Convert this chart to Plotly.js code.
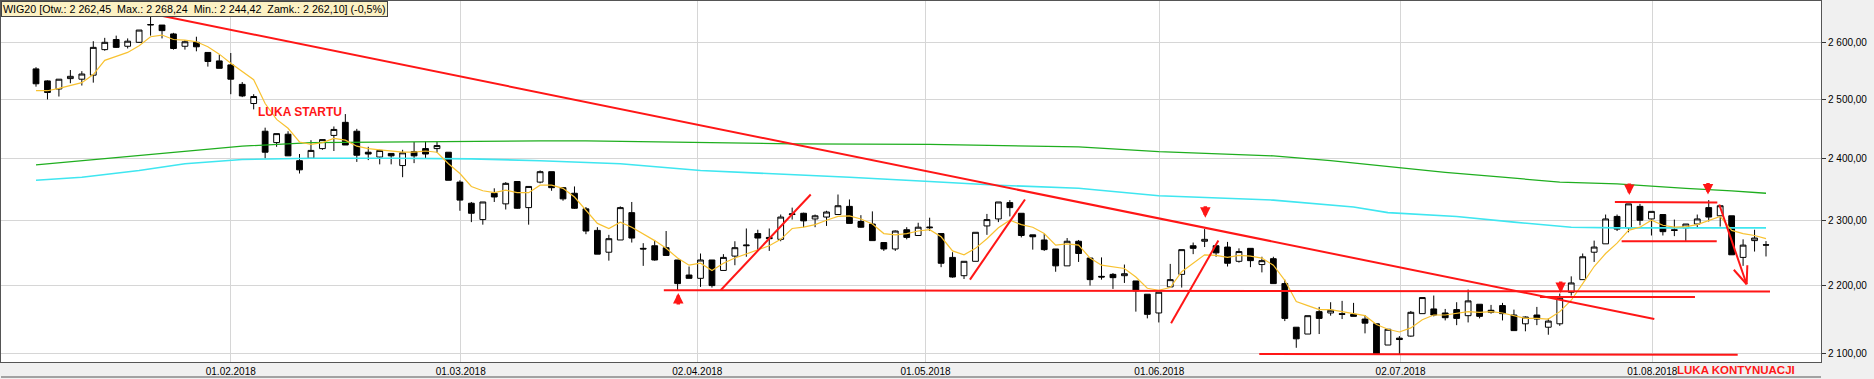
<!DOCTYPE html>
<html><head><meta charset="utf-8">
<script src="https://cdn.plot.ly/plotly-3.0.1.min.js"></script>
<style>html,body{margin:0;padding:0;background:#f0f0f0;}#chart{width:1874px;height:379px;}</style>
</head><body><div id="chart"></div>
<script>
const openP  = [2553,2532,2518,2536,2535,2542,2587,2605,2593,2600,2631,2631,2615,2593,2600,2582,2567,2560,2526,2493,
2446,2427,2441,2397,2401,2417,2439,2461,2446,2411,2403,2409,2389,2412,2417,2417,2411,2362,2328,2302,
2344,2327,2363,2321,2362,2379,2353,2344,2319,2285,2251,2270,2313,2257,2261,2258,2239,2216,2211,2239,
2223,2245,2261,2280,2274,2271,2310,2312,2303,2306,2310,2323,2299,2295,2266,2256,2286,2277,2289,2280,
2243,2215,2237,2292,2303,2329,2312,2278,2270,2256,2230,2268,2242,2214,2217,2215,2207,2187,2159,2198,
2217,2261,2268,2261,2259,2237,2257,2232,2241,2203,2138,2128,2161,2159,2158,2157,2150,2143,2112,2122,
2125,2158,2165,2159,2164,2155,2172,2163,2170,2156,2143,2156,2138,2143,2190,2209,2251,2264,2307,2289,
2323,2303,2310,2286,2289,2295,2321,2308,2308,2243,2269,2262.45];
const highP  = [2556,2533,2535,2551,2549,2602,2608,2612,2607,2622,2652,2631,2617,2604,2610,2582,2578,2581,2530,2509,
2452,2442,2446,2408,2431,2432,2454,2475,2450,2420,2415,2409,2415,2428,2429,2429,2411,2365,2330,2330,
2352,2362,2363,2355,2381,2379,2354,2355,2322,2290,2278,2323,2330,2265,2270,2284,2239,2229,2249,2239,
2248,2268,2288,2286,2288,2310,2321,2313,2310,2316,2342,2334,2309,2315,2266,2285,2290,2297,2305,2280,
2251,2237,2282,2311,2330,2333,2312,2278,2280,2256,2273,2270,2242,2243,2219,2232,2207,2187,2190,2233,
2255,2266,2287,2261,2267,2257,2257,2244,2244,2209,2138,2155,2168,2175,2177,2174,2156,2143,2135,2125,
2162,2182,2185,2165,2175,2194,2172,2171,2174,2164,2154,2168,2151,2188,2214,2249,2269,2310,2310,2327,
2327,2315,2310,2302,2295,2310,2333,2324,2308,2271,2286,2268.24];
const lowP   = [2522,2500,2505,2528,2524,2529,2585,2590,2589,2599,2612,2607,2587,2587,2584,2557,2554,2509,2504,2483,
2401,2420,2405,2376,2401,2415,2413,2423,2395,2398,2391,2391,2370,2393,2401,2410,2365,2316,2298,2294,
2330,2318,2319,2294,2360,2348,2332,2319,2279,2248,2238,2270,2266,2230,2238,2246,2193,2211,2198,2197,
2223,2231,2244,2254,2253,2268,2302,2290,2290,2292,2310,2296,2289,2269,2253,2253,2271,2277,2284,2228,
2212,2210,2237,2278,2298,2307,2274,2255,2253,2221,2230,2236,2200,2209,2195,2204,2161,2151,2145,2198,
2197,2248,2259,2244,2229,2235,2228,2220,2203,2147,2108,2128,2128,2155,2150,2154,2129,2098,2112,2098,
2124,2158,2154,2148,2141,2145,2151,2158,2148,2133,2132,2141,2127,2140,2185,2209,2236,2264,2284,2282,
2293,2277,2277,2276,2268,2290,2299,2291,2247,2230,2252,2244.42];
const closeP = [2527,2512,2535,2540,2544,2591,2600,2591,2602,2622,2632,2621,2589,2601,2592,2566,2554,2535,2506,2505,
2411,2442,2405,2382,2414,2432,2449,2423,2406,2408,2414,2405,2410,2405,2408,2422,2365,2333,2312,2330,
2338,2360,2320,2355,2379,2353,2335,2320,2284,2248,2272,2321,2273,2256,2239,2246,2203,2211,2239,2200,
2243,2258,2262,2273,2272,2306,2311,2300,2308,2314,2324,2296,2290,2269,2256,2284,2274,2290,2290,2234,
2213,2237,2282,2302,2330,2321,2277,2275,2255,2230,2268,2249,2209,2213,2212,2218,2192,2157,2190,2209,
2255,2257,2271,2250,2234,2252,2238,2238,2203,2151,2121,2155,2151,2163,2157,2154,2144,2099,2135,2120,
2160,2182,2156,2152,2151,2177,2154,2160,2158,2133,2153,2150,2147,2181,2204,2244,2259,2303,2287,2327,
2301,2315,2283,2285,2295,2303,2306,2324,2247,2262,2273,2262.10];

const maShort = [2515,2515,2519,2524,2529,2543,2568,2575,2582,2594,2610,2613,2605,2604,2601,2592,2579,2563,2549,2534,
2493,2466,2451,2428,2424,2427,2434,2431,2421,2417,2415,2413,2411,2411,2413,2411,2392,2376,2355,2348,
2345,2349,2345,2345,2357,2357,2352,2338,2317,2296,2288,2298,2290,2280,2269,2257,2242,2231,2234,2223,
2234,2242,2248,2254,2261,2271,2288,2290,2294,2301,2307,2308,2303,2295,2280,2278,2280,2284,2286,2275,
2253,2247,2257,2272,2289,2301,2294,2290,2280,2262,2264,2262,2242,2231,2229,2226,2213,2196,2193,2197,
2221,2234,2247,2246,2243,2246,2245,2242,2231,2208,2176,2170,2164,2164,2161,2159,2155,2142,2135,2131,
2137,2149,2156,2156,2159,2161,2160,2161,2159,2155,2151,2151,2150,2161,2178,2203,2229,2249,2265,2285,
2290,2301,2293,2290,2291,2294,2301,2307,2285,2280,2277,2272];

const maMidIdx = [0,4,9,13,18,24,31,38,44,51,58,64,71,78,84,91,98,108,115,118,124,129,134,138,151];
const maMidVal = [2365,2370,2381,2392,2399,2401,2401,2400,2397,2392,2381,2376,2370,2363,2357,2352,2340,2333,2322,2313,2307,2298,2290,2289,2289];

const maLongIdx = [0,9,18,24,29,38,44,48,58,66,78,84,91,98,103,108,113,118,123,128,133,138,141,144,148,151];
const maLongVal = [2390,2405,2421,2427,2428,2429,2430,2430,2427,2425,2424,2422,2420,2412,2408,2405,2397,2387,2378,2370,2362,2359,2355,2352,2348,2344];

// hand-drawn red lines: [x0, y0, x1, y1] in (session index, price)
const redSegments = [
  [10.1,2651.5,141.25,2150],
  [54.8,2193,151.35,2191],
  [131.27,2183,144.8,2183],
  [106.77,2099,148.53,2098],
  [59.76,2193,67.62,2342],
  [81.52,2209,86.32,2334],
  [99.07,2144,103.2,2269],
  [137.81,2330,146.75,2329],
  [138.4,2268,146.7,2268],
  [146.92,2326,149.31,2202],
  [148.19,2224,149.31,2202],
  [149.37,2231,149.31,2202]
];
const downArrows = [[102.06,2305],[133.08,2189],[139.07,2341],[145.94,2342]];
const upArrows = [[56.06,2189]];

const yTicks = [2100,2200,2300,2400,2500,2600];
const xTickPos = [17,37.07,57.72,77.64,98.05,119.11,141.07];
const xTickText = ['01.02.2018','01.03.2018','02.04.2018','01.05.2018','01.06.2018','02.07.2018','01.08.2018'];
const gapLabels = [{x:23.04, y:2478.5, text:'LUKA STARTU'}];

function fmt(v){
  const s = v.toFixed(2).split('.');
  const i = s[0].replace(/\B(?=(\d{3})+(?!\d))/g,' ');
  return i + ',' + s[1];
}

const n = closeP.length;
const idx = closeP.map((_,i)=>i);
const traces = [];
traces.push({
  type:'candlestick', x:idx, open:openP, high:highP, low:lowP, close:closeP,
  increasing:{line:{color:'#000',width:1}, fillcolor:'#ffffff'},
  decreasing:{line:{color:'#000',width:1}, fillcolor:'#000000'},
  whiskerwidth:0, hoverinfo:'skip', showlegend:false
});
traces.push({type:'scatter',mode:'lines',x:maLongIdx,y:maLongVal,line:{color:'#1fae1f',width:1.3},hoverinfo:'skip',showlegend:false});
traces.push({type:'scatter',mode:'lines',x:maMidIdx,y:maMidVal,line:{color:'#3fe6f0',width:1.6},hoverinfo:'skip',showlegend:false});
traces.push({type:'scatter',mode:'lines',x:idx,y:maShort,line:{color:'#f8c231',width:1.2},hoverinfo:'skip',showlegend:false});
redSegments.forEach(s=>{
  traces.push({type:'scatter',mode:'lines',x:[s[0],s[2]],y:[s[1],s[3]],line:{color:'#ff1616',width:2},hoverinfo:'skip',showlegend:false});
});

const last = n-1;
const chg = (closeP[last]/closeP[last-1]-1)*100;
const NB = '\u00a0';
const legendText = 'WIG20 [Otw.: '+fmt(openP[last])+NB+NB+'Max.: '+fmt(highP[last])+NB+NB+'Min.: '+fmt(lowP[last])+NB+NB+'Zamk.: '+fmt(closeP[last])+'] ('+chg.toFixed(1).replace('.',',')+'%)';

const annotations = [];
annotations.push({xref:'paper',yref:'paper',x:0,y:1,xanchor:'left',yanchor:'top',text:legendText,showarrow:false,
  bgcolor:'#fcf1c4',bordercolor:'#444',borderwidth:1,borderpad:1,font:{family:'Liberation Sans, Arial',size:10.7,color:'#000'}});
gapLabels.forEach(g=>annotations.push({xref:'x',yref:'y',x:g.x,y:Math.log10(g.y),text:'<b>'+g.text+'</b>',showarrow:false,
  font:{family:'Liberation Sans, Arial',size:12,color:'#ff1616'}}));
annotations.push({xref:'paper',yref:'paper',x:(1735.5-1)/1820,y:-(370-362)/361,xanchor:'center',yanchor:'middle',text:'<b>LUKA KONTYNUACJI</b>',showarrow:false,
  font:{family:'Liberation Sans, Arial',size:11.5,color:'#ff1616'}});
downArrows.forEach(a=>annotations.push({xref:'x',yref:'y',x:a[0],y:Math.log10(a[1]),text:'',showarrow:true,arrowhead:2,arrowsize:0.6,arrowwidth:3.5,arrowcolor:'#ff1616',ax:0,ay:-13}));
upArrows.forEach(a=>annotations.push({xref:'x',yref:'y',x:a[0],y:Math.log10(a[1]),text:'',showarrow:true,arrowhead:2,arrowsize:0.6,arrowwidth:3.5,arrowcolor:'#ff1616',ax:0,ay:13}));

const layout = {
  width:1874, height:379,
  margin:{l:1,r:53,t:1,b:17,pad:0},
  paper_bgcolor:'#f0f0f0', plot_bgcolor:'#ffffff',
  showlegend:false,
  font:{family:'Liberation Sans, Arial',size:10,color:'#000'},
  xaxis:{type:'linear',range:[-3.055,155.8],rangeslider:{visible:false},tickmode:'array',tickvals:xTickPos,ticktext:xTickText,
    ticks:'',showgrid:true,gridcolor:'#d6d6d6',gridwidth:1,zeroline:false,showline:true,mirror:true,linecolor:'#555',linewidth:1,
    tickfont:{size:10,color:'#000'},fixedrange:true},
  yaxis:{type:'log',side:'right',range:[3.319632,3.427297],tickmode:'array',tickvals:yTicks,ticktext:yTicks.map(fmt),
    ticks:'outside',ticklen:4,tickcolor:'#333',showgrid:true,gridcolor:'#d6d6d6',gridwidth:1,zeroline:false,
    showline:true,mirror:true,linecolor:'#555',linewidth:1,tickfont:{size:10,color:'#000'},fixedrange:true},
  boxgap:0.28,
  shapes:[{type:'line',xref:'paper',yref:'paper',x0:0,x1:1,y0:-(377-362)/361,y1:-(377-362)/361,line:{color:'#555',width:1}}],
  annotations:annotations
};
Plotly.newPlot('chart',traces,layout,{staticPlot:true,displayModeBar:false});
</script></body></html>
